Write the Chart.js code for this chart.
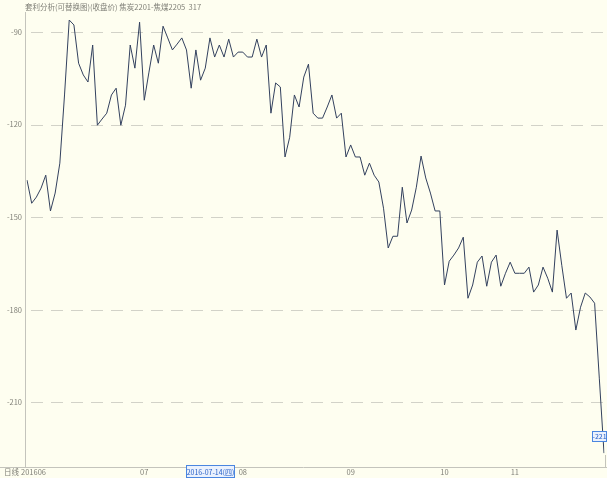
<!DOCTYPE html>
<html>
<head>
<meta charset="utf-8">
<script src="https://cdn.jsdelivr.net/npm/chart.js@4.4.0/dist/chart.umd.min.js"></script>
<style>
  html, body { margin: 0; padding: 0; background: #fefef0; }
  #graph { display: block; }
</style>
</head>
<body>
<canvas id="graph" width="607" height="478"></canvas>
<script>
var titleText = '套利分析(可替换图)(收盘价) 焦炭2201-焦煤2205  317';
var periodText = '日线';
var startText = '201606';
var spread = [
  -138.0, -145.5, -143.5, -140.6, -136.4, -148.0, -142.2, -132.5, -110.4, -86.1,
  -87.7, -100.1, -103.9, -106.2, -94.2, -120.2, -118.2, -116.3, -110.4, -108.2,
  -120.2, -113.7, -94.2, -101.7, -86.8, -112.1, -103.0, -94.2, -100.1, -88.1,
  -91.9, -95.8, -93.9, -91.9, -95.8, -108.2, -95.8, -105.6, -101.7, -91.9,
  -98.1, -94.2, -98.1, -92.3, -98.1, -96.5, -96.5, -98.1, -98.1, -92.3,
  -98.1, -94.2, -116.3, -106.5, -107.8, -130.5, -124.1, -110.4, -114.3, -104.6,
  -100.4, -116.3, -117.9, -117.9, -114.3, -110.4, -117.9, -116.3, -130.5, -126.6,
  -130.5, -130.5, -136.4, -132.5, -136.4, -138.6, -147.1, -160.0, -156.2, -156.2,
  -140.3, -151.9, -147.7, -140.3, -130.2, -137.3, -142.2, -148.0, -148.0, -172.0,
  -164.3, -162.3, -160.0, -156.5, -176.3, -172.0, -164.6, -162.6, -172.4, -164.6,
  -162.3, -172.4, -168.2, -164.6, -168.2, -168.2, -168.2, -166.2, -174.3, -172.0,
  -166.2, -169.8, -174.3, -154.2, -165.6, -176.3, -174.6, -186.6, -179.2, -174.6,
  -175.9, -177.9, -202.2, -226.5
];
var yTicks = [-90, -120, -150, -180, -210];
var monthIndex = [25, 46, 69, 89, 104];
var monthText = ['07', '08', '09', '10', '11'];
var markedIndex = 39;
var markedText = '2016-07-14(四)';
var lastValue = -221;
var lastText = '-221';

var days = spread.map(function(v, i) { return i; });
var smallFont = '7.5px "Noto Sans CJK SC", "DejaVu Sans", sans-serif';

// axes, grid and text around the plot
var frame = {
  id: 'frame',
  beforeDatasetsDraw: function(chart) {
    var ctx = chart.ctx;
    var xs = chart.scales.x, ys = chart.scales.y;
    ctx.save();
    ctx.font = smallFont;
    ctx.strokeStyle = '#d2d2c8';
    ctx.lineWidth = 1;
    ctx.setLineDash([12, 8]);
    yTicks.forEach(function(t) {
      var y = Math.round(ys.getPixelForValue(t)) + 0.5;
      ctx.beginPath();
      ctx.moveTo(31, y);
      ctx.lineTo(604, y);
      ctx.stroke();
    });
    ctx.setLineDash([]);
    ctx.strokeStyle = '#c4c4bc';
    ctx.beginPath();
    ctx.moveTo(25.5, 12);
    ctx.lineTo(25.5, 467);
    ctx.moveTo(0, 467.5);
    ctx.lineTo(607, 467.5);
    ctx.moveTo(605.5, 455);
    ctx.lineTo(605.5, 467);
    ctx.stroke();

    ctx.fillStyle = '#808078';
    ctx.textBaseline = 'middle';
    ctx.textAlign = 'right';
    yTicks.forEach(function(t) {
      ctx.fillText(String(t), 22, ys.getPixelForValue(t));
    });
    ctx.textAlign = 'left';
    ctx.fillText(titleText, 25, 7);
    ctx.fillText(periodText, 4, 472);
    ctx.fillText(startText, 21, 472);
    ctx.textAlign = 'center';
    monthIndex.forEach(function(idx, i) {
      ctx.fillText(monthText[i], xs.getPixelForValue(idx), 472);
    });
    ctx.restore();
  },
  afterDatasetsDraw: function(chart) {
    var ctx = chart.ctx;
    var xs = chart.scales.x, ys = chart.scales.y;
    ctx.save();
    ctx.font = '7px "Noto Sans CJK SC", "DejaVu Sans", sans-serif';
    ctx.textBaseline = 'middle';
    ctx.textAlign = 'center';
    var mx = Math.round(xs.getPixelForValue(markedIndex));
    var w = 48;
    ctx.fillStyle = '#eaf1fd';
    ctx.fillRect(mx - w / 2 + 0.5, 465.5, w, 12);
    ctx.strokeStyle = '#4a86e0';
    ctx.strokeRect(mx - w / 2 + 0.5, 465.5, w, 12);
    ctx.fillStyle = '#2a62c8';
    ctx.fillText(markedText, mx + 0.5, 472);

    var ly = ys.getPixelForValue(lastValue);
    ctx.fillStyle = '#eaf1fd';
    ctx.fillRect(592.5, Math.round(ly - 5) + 0.5, 14, 10);
    ctx.strokeStyle = '#4a86e0';
    ctx.strokeRect(592.5, Math.round(ly - 5) + 0.5, 14, 10);
    ctx.fillStyle = '#2a62c8';
    ctx.fillText(lastText, 599.5, ly + 0.5);
    ctx.restore();
  }
};

var chart = new Chart(document.querySelector('#graph').getContext('2d'), {
  type: 'line',
  data: {
    labels: days,
    datasets: [{
      data: spread,
      borderColor: '#33415e',
      borderWidth: 1,
      pointRadius: 0,
      tension: 0,
      fill: false
    }]
  },
  options: {
    responsive: false,
    animation: false,
    layout: { padding: { left: 27, right: 3, top: 12, bottom: 11 } },
    plugins: {
      legend: { display: false },
      tooltip: { enabled: false }
    },
    scales: {
      x: { type: 'category', display: false, offset: false },
      y: { display: false, min: -231, max: -83.5 }
    }
  },
  plugins: [frame]
});
</script>
</body>
</html>
